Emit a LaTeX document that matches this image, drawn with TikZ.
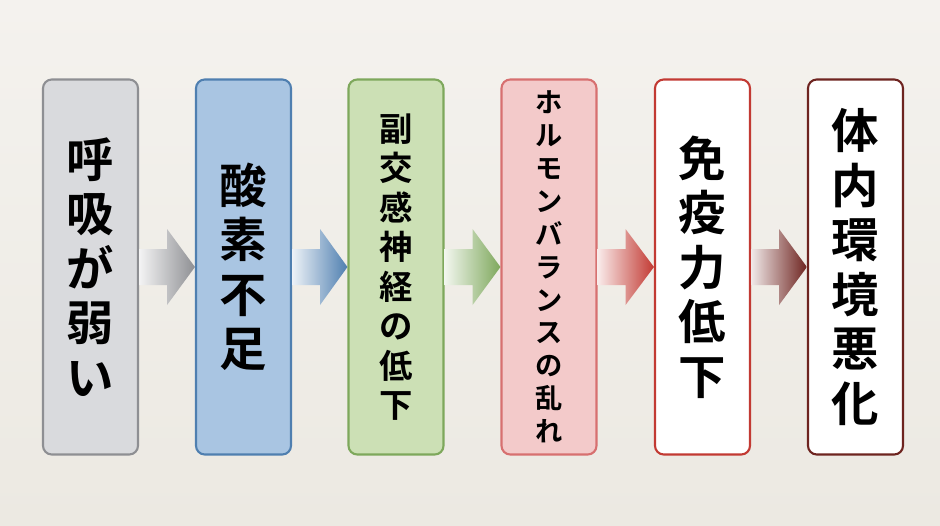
\documentclass[tikz,border=0pt]{standalone}
\usepackage{fontspec}
\newfontfamily\cjk{Noto Sans CJK JP}[BoldFont={* Bold}]
\usetikzlibrary{calc}
\definecolor{bgA}{HTML}{F4F2EE}
\definecolor{bgB}{HTML}{ECE9E2}
\definecolor{grayfill}{HTML}{D9DADD}
\definecolor{grayline}{HTML}{8E8F93}
\definecolor{bluefill}{HTML}{A9C5E2}
\definecolor{blueline}{HTML}{4F7FB0}
\definecolor{greenfill}{HTML}{CCE0B5}
\definecolor{greenline}{HTML}{7EA85C}
\definecolor{pinkfill}{HTML}{F3CACA}
\definecolor{pinkline}{HTML}{D77070}
\definecolor{redline}{HTML}{C23A33}
\definecolor{darkline}{HTML}{6E2420}
\newcommand{\flow}[3]{%
  \shade[left color=#3!10!white, right color=#3]
    ($(#1.east)+(0,-18)$) -- ($(#1.east)+(28,-18)$) -- ($(#1.east)+(28,-38)$)
    -- (#2.west) -- ($(#1.east)+(28,38)$) -- ($(#1.east)+(28,18)$)
    -- ($(#1.east)+(0,18)$) -- cycle;}
\begin{document}
\begin{tikzpicture}[x=0.02cm,y=-0.02cm,
  box/.style={draw, line width=1.2pt, rounded corners=5pt, minimum width=95*0.02cm,
    minimum height=375*0.02cm, inner sep=0pt, align=center, font=\cjk\bfseries},
  big/.style={font=\cjk\bfseries\fontsize{27}{31}\selectfont},
  mid/.style={font=\cjk\bfseries\fontsize{19}{22.5}\selectfont},
  small/.style={font=\cjk\bfseries\fontsize{15.5}{18.7}\selectfont}]
  \shade[top color=bgA, bottom color=bgB] (0,0) rectangle (940,525);
  \useasboundingbox (0,0) rectangle (940,525);

  \node (b1)[box, big, fill=grayfill, draw=grayline] at (90.5,267) {呼\\吸\\が\\弱\\い};
  \node (b2)[box, big, fill=bluefill, draw=blueline] at (243.5,267) {酸\\素\\不\\足};
  \node (b3)[box, mid, fill=greenfill, draw=greenline] at (396,267) {副\\交\\感\\神\\経\\の\\低\\下};
  \node (b4)[box, small, fill=pinkfill, draw=pinkline] at (549,267) {ホ\\ル\\モ\\ン\\バ\\ラ\\ン\\ス\\の\\乱\\れ};
  \node (b5)[box, big, fill=white, draw=redline] at (702.5,267) {免\\疫\\力\\低\\下};
  \node (b6)[box, big, fill=white, draw=darkline] at (855.5,267) {体\\内\\環\\境\\悪\\化};

  \flow{b1}{b2}{grayline}
  \flow{b2}{b3}{blueline}
  \flow{b3}{b4}{greenline}
  \flow{b4}{b5}{redline}
  \flow{b5}{b6}{darkline}
\end{tikzpicture}
\end{document}
